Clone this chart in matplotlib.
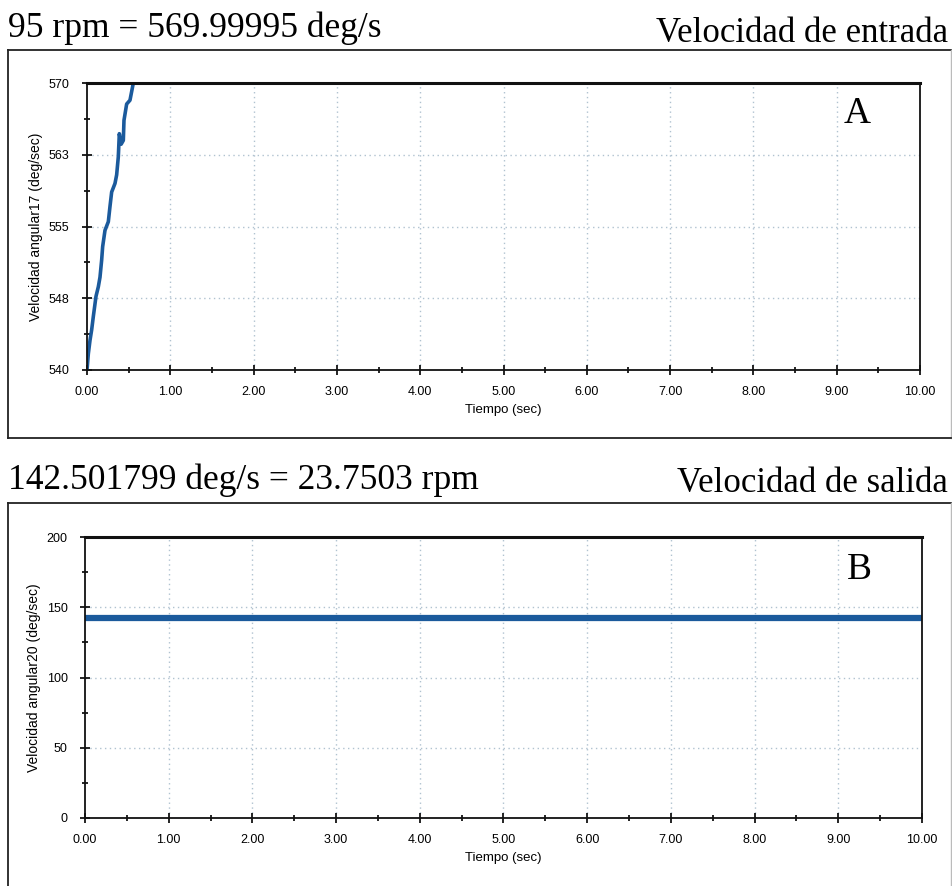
import numpy as np
import matplotlib
matplotlib.use("Agg")
import matplotlib.pyplot as plt
from matplotlib.lines import Line2D

# panel A: input angular velocity ramp
t_a = [0.0, 0.016, 0.036, 0.056, 0.076, 0.108, 0.136, 0.156, 0.176, 0.188,
       0.216, 0.256, 0.276, 0.296, 0.336, 0.356, 0.376, 0.388, 0.41, 0.436,
       0.444, 0.476, 0.516, 0.536, 0.556, 10.0]
v_a = [540.0, 541.7, 543.1, 544.2, 545.6, 547.7, 548.7, 549.7, 551.5, 552.9,
       554.6, 555.5, 557.1, 558.6, 559.5, 560.4, 562.3, 564.7, 563.6, 564.0,
       566.1, 567.8, 568.2, 569.1, 570.0, 570.0]

# panel B: constant output angular velocity
t_b = [0.0, 10.0]
v_b = [142.501799, 142.501799]

x_ticks = np.arange(0, 11, 1.0)
x_labels = ["%.2f" % v for v in x_ticks]
ya_ticks = [540, 547.5, 555, 562.5, 570]
ya_labels = ["540", "548", "555", "563", "570"]
yb_ticks = [0, 50, 100, 150, 200]
yb_labels = ["0", "50", "100", "150", "200"]

title_a_left = "95 rpm = 569.99995 deg/s"
title_a_right = "Velocidad de entrada"
title_b_left = "142.501799 deg/s = 23.7503 rpm"
title_b_right = "Velocidad de salida"

W, H = 953, 886
fig = plt.figure(figsize=(W / 100, H / 100), dpi=100)
serif = ["Liberation Serif", "DejaVu Serif"]
sans = ["Liberation Sans", "DejaVu Sans"]
line_col = "#1b5a9c"
grid_col = "#b0c2d0"


def fx(px):
    return px / W


def fy(py):
    return 1 - py / H


def setup(ax, yticks, ylabels, ylim, ylabel):
    ax.set_xlim(0, 10)
    ax.set_ylim(*ylim)
    ax.set_xticks(x_ticks)
    ax.set_xticklabels(x_labels, family=sans, fontsize=9)
    ax.set_xticks(np.arange(0.5, 10, 1.0), minor=True)
    ax.set_yticks(yticks)
    ax.set_yticklabels(ylabels, family=sans, fontsize=9)
    mids = [(yticks[i] + yticks[i + 1]) / 2 for i in range(len(yticks) - 1)]
    ax.set_yticks(mids, minor=True)
    ax.tick_params(which="major", direction="inout", length=7, width=1.2)
    ax.tick_params(axis="x", which="major", pad=8)
    ax.tick_params(axis="y", which="major", pad=9)
    ax.tick_params(which="minor", direction="inout", length=4, width=1.2)
    ax.tick_params(top=False, right=False)
    for s in ax.spines.values():
        s.set_linewidth(1.3)
        s.set_color("#111111")
    ax.spines["top"].set_linewidth(2.2)
    for x in x_ticks[1:-1]:
        ax.axvline(x, color=grid_col, lw=1, ls=(0, (1, 2.5)), zorder=0)
    for y in yticks[1:-1]:
        ax.axhline(y, color=grid_col, lw=1, ls=(0, (1, 2.5)), zorder=0)
    ax.set_xlabel("Tiempo (sec)", family=sans, fontsize=9.5, labelpad=4)
    ax.set_ylabel(ylabel, family=sans, fontsize=10, labelpad=4)


def frame(top, bottom=None):
    x0, x1 = fx(8), fx(951)
    fig.add_artist(Line2D([x0, x1], [fy(top), fy(top)], color="#222222", lw=1.3))
    yb = fy(bottom) if bottom is not None else 0
    fig.add_artist(Line2D([x0, x0], [fy(top), yb], color="#222222", lw=1.3))
    fig.add_artist(Line2D([x1, x1], [fy(top), yb], color="#bbbbbb", lw=1.0))
    if bottom is not None:
        fig.add_artist(Line2D([x0, x1], [fy(bottom), fy(bottom)], color="#222222", lw=1.3))


# panel A
frame(50, 438)
fig.text(fx(8), fy(28), title_a_left, family=serif, fontsize=25.5, va="center", ha="left")
fig.text(fx(948), fy(34), title_a_right, family=serif, fontsize=25, va="center", ha="right")
ax1 = fig.add_axes([fx(87), fy(370), fx(920) - fx(87), fy(83) - fy(370)])
ax1.plot(t_a, v_a, color=line_col, lw=2.6)
setup(ax1, ya_ticks, ya_labels, (540, 570), "Velocidad angular17 (deg/sec)")
ax1.text(9.08, 566.8, "A", family=serif, fontsize=27, ha="left", va="center")

# panel B
frame(503)
fig.text(fx(8), fy(480), title_b_left, family=serif, fontsize=25.5, va="center", ha="left")
fig.text(fx(948), fy(483), title_b_right, family=serif, fontsize=25, va="center", ha="right")
ax2 = fig.add_axes([fx(85), fy(818), fx(922) - fx(85), fy(537) - fy(818)])
ax2.plot(t_b, v_b, color=line_col, lw=4.5)
setup(ax2, yb_ticks, yb_labels, (0, 200), "Velocidad angular20 (deg/sec)")
ax2.text(9.1, 177, "B", family=serif, fontsize=27, ha="left", va="center")

fig.savefig("out.png", dpi=100)
